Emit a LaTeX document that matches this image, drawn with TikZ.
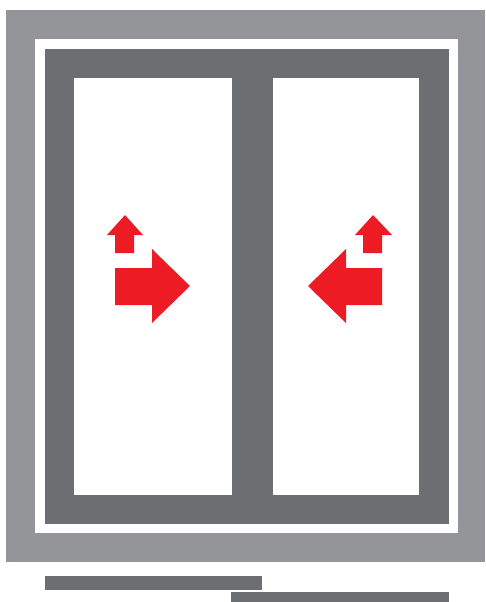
\documentclass[tikz,border=0pt]{standalone}
\usepackage{xcolor}
\definecolor{cFrame}{HTML}{939598}
\definecolor{cSash}{HTML}{6D6E71}
\definecolor{cArrow}{HTML}{ED1C24}
\tikzset{
  frame/.style={fill=cFrame},
  sash/.style={fill=cSash},
  pane/.style={fill=white},
  slide/.style={fill=cArrow},
}
\begin{document}
\begin{tikzpicture}[x=0.02cm,y=-0.02cm]
  \useasboundingbox (0,0) rectangle (485,602);
  % outer frame
  \fill[frame] (6,10) rectangle (485,562);
  \fill[pane] (35,39) rectangle (458,533);
  % sliding sash
  \fill[sash] (44.5,48.5) rectangle (449,523.5);
  \fill[pane] (73.5,77.5) rectangle (232,495);
  \fill[pane] (272.5,77.5) rectangle (419,495);
  % left pane arrows
  \fill[slide] (125,215)--(143,235)--(134,235)--(134,253)--(115,253)--(115,235)--(107,235)--cycle;
  \fill[slide] (115,268)--(152,268)--(152,249)--(190,286)--(152,323)--(152,305)--(115,305)--cycle;
  % right pane arrows
  \fill[slide] (373,215)--(392,235)--(382,235)--(382,253)--(363,253)--(363,235)--(355,235)--cycle;
  \fill[slide] (382,268)--(346,268)--(346,249)--(308,286)--(346,323)--(346,305)--(382,305)--cycle;
  % track bars
  \fill[sash] (44.5,576) rectangle (262,590);
  \fill[sash] (231,592) rectangle (449,602);
\end{tikzpicture}
\end{document}
